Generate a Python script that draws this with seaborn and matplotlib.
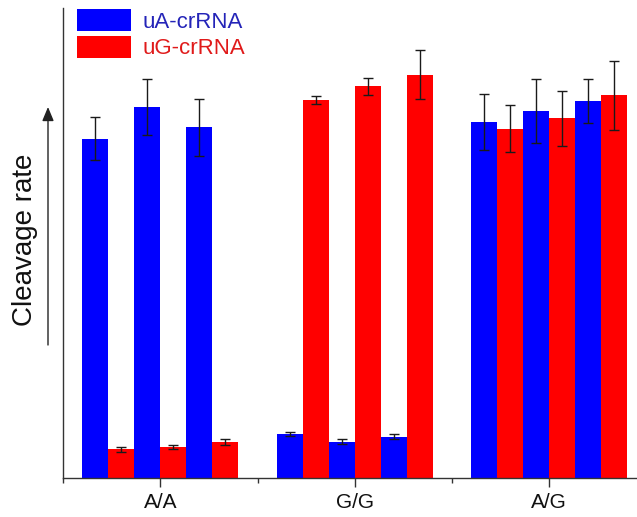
import matplotlib
matplotlib.use("Agg")
import matplotlib.pyplot as plt
from matplotlib.patches import Patch
import seaborn as sns
import pandas as pd

# Genotype groups and three replicate measurements per crRNA in each group
groups = ["A/A", "G/G", "A/G"]
series_names = ["uA-crRNA", "uG-crRNA"]
series_colors = ["#0000ff", "#ff0000"]
label_colors = ["#2424b8", "#e01a1a"]

ua_mean = [72.2, 78.9, 74.6, 9.4, 7.7, 8.8, 75.7, 78.1, 80.2]
ua_err = [4.6, 6.0, 6.0, 0.4, 0.5, 0.5, 5.9, 6.9, 4.6]
ug_mean = [6.1, 6.6, 7.6, 80.4, 83.3, 85.8, 74.3, 76.5, 81.4]
ug_err = [0.6, 0.5, 0.6, 0.9, 1.9, 5.2, 5.0, 5.9, 7.4]

n_rep = 3

# Long table: bars are interleaved uA, uG, uA, uG, uA, uG inside each group
rows = []
for gi, g in enumerate(groups):
    for r in range(n_rep):
        i = gi * n_rep + r
        rows.append((g, f"{series_names[0]} {r + 1}", ua_mean[i], ua_err[i]))
        rows.append((g, f"{series_names[1]} {r + 1}", ug_mean[i], ug_err[i]))
df = pd.DataFrame(rows, columns=["group", "slot", "value", "err"])
slots = [f"{s} {r + 1}" for r in range(n_rep) for s in series_names]
palette = {s: series_colors[k % 2] for k, s in enumerate(slots)}

sns.set_style("ticks")
plt.rcParams["font.family"] = ["Liberation Sans", "DejaVu Sans"]

fig = plt.figure(figsize=(6.37, 5.17), dpi=100)
ax = fig.add_axes([63 / 637, 39 / 517, 574 / 637, 470 / 517])

sns.barplot(data=df, x="group", y="value", hue="slot", order=groups,
            hue_order=slots, palette=palette, errorbar=None, width=0.8,
            gap=0, linewidth=0, saturation=1, legend=False, ax=ax)

# Error bars at the centre of each drawn bar
for slot, container in zip(slots, ax.containers):
    sub = df[df["slot"] == slot].set_index("group").loc[groups]
    xs = [b.get_x() + b.get_width() / 2 for b in container]
    ax.errorbar(xs, sub["value"], yerr=sub["err"], fmt="none",
                ecolor="#1a1a1a", elinewidth=1.0, capsize=3.6, capthick=1.0,
                zorder=3)

ax.set_xlim(-0.5, -0.5 + 574 / 194.5)
ax.set_ylim(0, 100)
ax.set_xlabel("")
ax.set_ylabel("")
ax.set_yticks([])
ax.set_xticks(range(len(groups)))
ax.set_xticklabels(groups, fontsize=15, color="#111111")
ax.set_xticks([-0.5, 0.5, 1.5], minor=True)
ax.tick_params(axis="x", which="major", length=6.5, width=1.0, color="#333333", pad=4)
ax.tick_params(axis="x", which="minor", length=3.6, width=1.0, color="#333333")
for side in ("top", "right"):
    ax.spines[side].set_visible(False)
for side in ("left", "bottom"):
    ax.spines[side].set_color("#333333")
    ax.spines[side].set_linewidth(1.0)

leg_fs = 16
fs_px = leg_fs * 100 / 72
handles = [Patch(facecolor=c, edgecolor="none") for c in series_colors]
leg = ax.legend(handles, series_names, loc="upper left",
                bbox_to_anchor=(14 / 574, 469 / 470), frameon=False,
                fontsize=leg_fs, borderpad=0, borderaxespad=0,
                handlelength=54 / fs_px, handleheight=26 / fs_px,
                handletextpad=11 / fs_px, labelspacing=3 / fs_px)
for txt, c in zip(leg.get_texts(), label_colors):
    txt.set_color(c)

# Axis title with an upward arrow beside it
fig.text(25 / 637, 1 - 240 / 517, "Cleavage rate", rotation=90,
         ha="center", va="center", fontsize=20, color="#111111")
fig.patches.append(matplotlib.patches.FancyArrowPatch(
    (48 / 637, 1 - 345 / 517), (48 / 637, 1 - 107 / 517),
    transform=fig.transFigure, arrowstyle="-|>,head_length=0.6,head_width=0.25",
    mutation_scale=14, lw=1.0, color="#222222", shrinkA=0, shrinkB=0))

fig.savefig("out.png", dpi=100)
